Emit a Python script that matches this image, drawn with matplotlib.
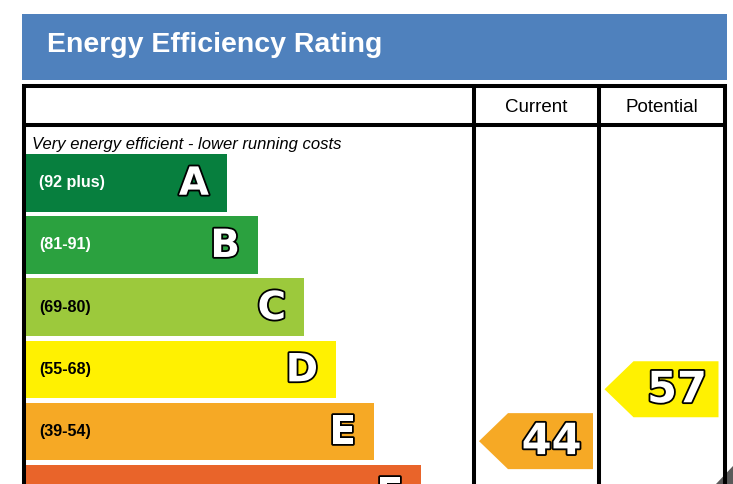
import numpy as np
import matplotlib.pyplot as plt
from matplotlib.patches import Polygon, Rectangle
import matplotlib.patheffects as pe

# EPC bands (A..G), the score range of each band and the bar length drawn for it
bands = ['A', 'B', 'C', 'D', 'E', 'F', 'G']
range_labels = ['(92 plus)', '(81-91)', '(69-80)', '(55-68)', '(39-54)', '(21-38)', '(1-20)']
range_hi = [100, 91, 80, 68, 54, 38, 20]
range_lo = [92, 81, 69, 55, 39, 21, 1]
bar_lengths = [201, 232, 278, 310, 348, 395, 440]
band_colors = ['#077f3e', '#2ba13f', '#9cc93c', '#fff101', '#f6a925', '#e9642a', '#e31d23']
label_colors = ['white', 'white', 'black', 'black', 'black', 'black', 'black']

current = 44
potential = 57

# layout (pixels, figure is 733x484 at dpi 100)
W, H = 733, 484
band_top0, band_pitch, band_h = 154, 62.2, 57.5
bar_left = 26
col_x = [23.5, 474, 599, 724.5]

fig = plt.figure(figsize=(7.33, 4.84), dpi=100)
ax = fig.add_axes([0, 0, 1, 1])
ax.set_xlim(0, W)
ax.set_ylim(H, 0)
ax.axis('off')

sans = ['Liberation Sans', 'DejaVu Sans']
outline = [pe.withStroke(linewidth=2.6, foreground='black')]

# title banner
ax.add_patch(Rectangle((22, 14), 705, 66, color='#4f81bd', lw=0))
ax.text(47, 45, 'Energy Efficiency Rating', color='white', fontsize=20.5,
        fontweight='bold', family=sans, va='center', ha='left')

# table frame
lw = 2.9
ax.hlines([85.5, 125], 22, 727, color='black', lw=lw)
ax.vlines(col_x, 84, H + 10, color='black', lw=lw)
ax.text((col_x[1] + col_x[2]) / 2, 107, 'Current', fontsize=13.5, family=sans,
        ha='center', va='center')
ax.text((col_x[2] + col_x[3]) / 2, 107, 'Potential', fontsize=13.5, family=sans,
        ha='center', va='center')
ax.text(32, 144, 'Very energy efficient - lower running costs', fontsize=12,
        style='italic', family=sans, ha='left', va='center')

# band bars (the chart is cropped at the bottom, F is only partly visible)
tops = band_top0 + band_pitch * np.arange(len(bands))
centers = tops + band_h / 2
ax.barh(centers, bar_lengths, left=bar_left, height=band_h, color=band_colors, lw=0)
for i, b in enumerate(bands):
    if tops[i] >= H:
        continue
    if centers[i] < H - 10:
        ax.text(39, centers[i], range_labels[i], color=label_colors[i], fontsize=11.6,
                fontweight='bold', family=sans, ha='left', va='center')
    t = ax.text(bar_left + bar_lengths[i] - 18, centers[i] + 1, b, color='white',
                fontsize=28, fontweight='bold', family='DejaVu Sans',
                ha='right', va='center')
    t.set_path_effects(outline)


def rating_arrow(value, col_right):
    i = next(k for k in range(len(bands)) if range_lo[k] <= value <= range_hi[k])
    yc = tops[i] + (range_hi[i] - value) / (range_hi[i] - range_lo[i]) * band_h
    right = col_right - 6
    body_w, tip, half = 85, 29, 28
    left = right - body_w
    pts = [(left - tip, yc), (left, yc - half), (right, yc - half),
           (right, yc + half), (left, yc + half)]
    ax.add_patch(Polygon(pts, closed=True, color=band_colors[i], lw=0))
    t = ax.text(left + body_w / 2 + 1, yc + 1, str(value), color='white', fontsize=31,
                fontweight='bold', family='DejaVu Sans', ha='center', va='center')
    t.set_path_effects(outline)


rating_arrow(current, col_x[2])
rating_arrow(potential, col_x[3])

# page-curl corner
ax.add_patch(Polygon([(716, H), (W, 466), (W, H)], closed=True, color='#5a5a5a', lw=0))

fig.savefig('out.png', dpi=100)
